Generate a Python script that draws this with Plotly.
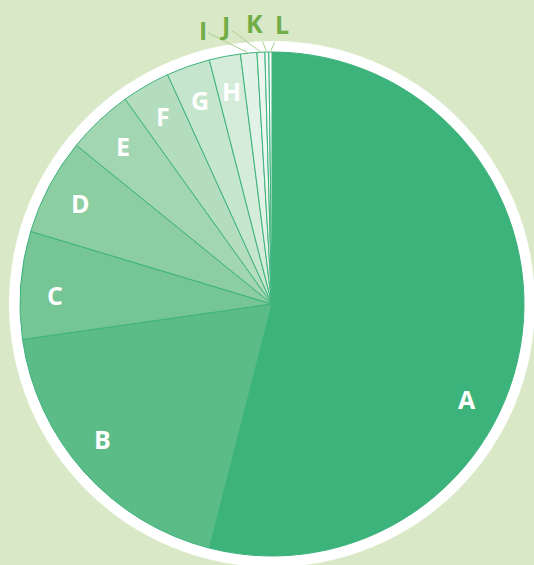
import math
import plotly.graph_objects as go

# Slice data (share of total, %)
labels = ["A", "B", "C", "D", "E", "F", "G", "H", "I", "J", "K", "L"]
values = [54.0, 18.75, 6.9, 6.2, 4.25, 3.1, 2.8, 2.0, 1.05, 0.5, 0.25, 0.2]
colors = ["#3cb37b", "#5cbc88", "#75c595", "#8ccda2", "#a2d5b1", "#b4ddbf",
          "#c5e5cd", "#d5ecdb", "#e2f2e7", "#ebf6ef", "#f3faf5", "#f9fcfa"]

# Labels drawn outside the pie with leader lines (pixel offsets of the text)
outside = {"I": (-46, -23), "J": (-36, -27), "K": (-12, -29), "L": (12, -28)}
# Custom placement angles for some labels (degrees clockwise from top)
label_angle_override = {"A": 116.0, "B": 231.5, "C": 272.5}

W, H = 534, 565
CX, CY, R = 272, 304, 252      # pie centre and radius in pixels
RING = 11                      # white ring thickness around the pie
BG = "#d9e8c7"
FONT = "Open Sans"


def px(x, y):
    return x / W, 1 - y / H


fig = go.Figure()

fig.add_trace(go.Pie(
    labels=labels,
    values=values,
    sort=False,
    direction="clockwise",
    rotation=0,
    marker=dict(colors=colors, line=dict(color="#3cb37b", width=1)),
    textinfo="none",
    hoverinfo="label+percent",
    showlegend=False,
    domain=dict(x=[(CX - R) / W, (CX + R) / W],
                y=[1 - (CY + R) / H, 1 - (CY - R) / H]),
))

# White ring behind the pie
x0, y1 = px(CX - R - RING, CY - R - RING)
x1, y0 = px(CX + R + RING, CY + R + RING)
fig.add_shape(type="circle", xref="paper", yref="paper",
              x0=x0, x1=x1, y0=y0, y1=y1,
              fillcolor="white", line=dict(width=0), layer="below")

total = sum(values)
cum = 0.0
annotations = []
for lab, v in zip(labels, values):
    mid = (cum + v / 2) / total * 360.0
    cum += v
    if lab in outside:
        ex = CX + R * math.sin(math.radians(mid))
        ey = CY - R * math.cos(math.radians(mid))
        ax, ay = outside[lab]
        xx, yy = px(ex, ey)
        annotations.append(dict(
            x=xx, y=yy, xref="paper", yref="paper",
            text=lab, showarrow=True, arrowhead=0, arrowwidth=1,
            arrowcolor="#a9d18e", ax=ax, ay=ay, standoff=0,
            font=dict(family=FONT, size=25, color="#70ad47", weight="bold"),
        ))
    else:
        ang = label_angle_override.get(lab, mid)
        lx = CX + 0.86 * R * math.sin(math.radians(ang))
        ly = CY - 0.86 * R * math.cos(math.radians(ang))
        xx, yy = px(lx, ly)
        annotations.append(dict(
            x=xx, y=yy, xref="paper", yref="paper",
            xanchor="center", yanchor="middle",
            text=lab, showarrow=False,
            font=dict(family=FONT, size=25, color="white", weight="bold"),
        ))

fig.update_layout(
    width=W, height=H,
    margin=dict(l=0, r=0, t=0, b=0),
    paper_bgcolor=BG,
    plot_bgcolor=BG,
    annotations=annotations,
)

fig.write_html("out.html")
